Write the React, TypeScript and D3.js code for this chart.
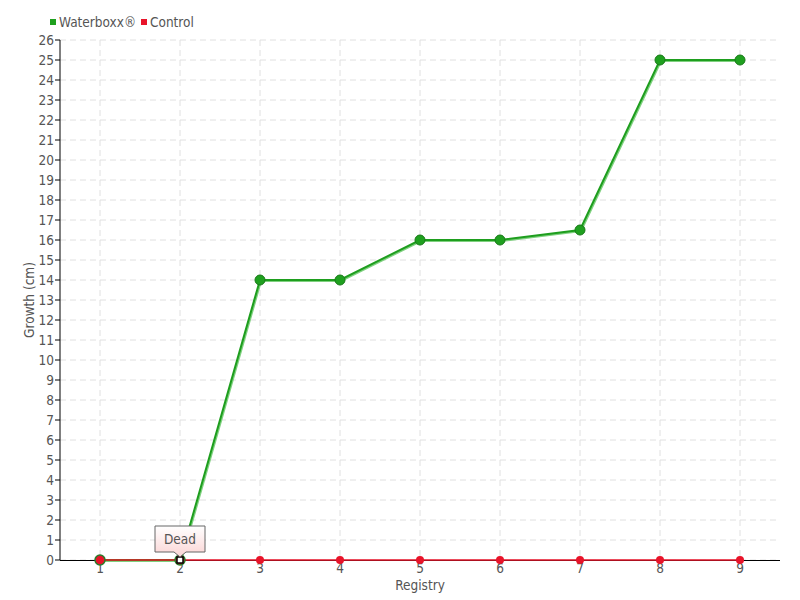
import React from "react";
import * as d3 from "d3";

const categories = ["1", "2", "3", "4", "5", "6", "7", "8", "9"];
const waterboxx = [0, 0, 14, 14, 16, 16, 16.5, 25, 25];
const control = [0, 0, 0, 0, 0, 0, 0, 0, 0];
const yTicks = d3.range(0, 27);

const W = 800, H = 600;
const m = { left: 60, right: 20, top: 40, bottom: 40 };
const FONT = "'DejaVu Sans Condensed', sans-serif";
const FS = 13.5;

export default function App() {
  const x = d3.scaleBand().domain(categories).range([m.left, W - m.right]);
  const cx = (c: string) => (x(c) as number) + x.bandwidth() / 2;
  const y = d3.scaleLinear().domain([0, 26]).range([H - m.bottom, m.top]);
  const line = d3.line<number>().x((_, i) => cx(categories[i])).y((d) => y(d));
  const gPath = line(waterboxx) as string;
  const rPath = line(control) as string;
  const tipX = cx(categories[1]);
  const tipY = y(control[1]);
  return (
    <svg width={W} height={H} style={{ position: "absolute", left: 0, top: 0, background: "#fff" }} fontFamily={FONT}>
      <defs>
        <linearGradient id="tipg" x1="0" y1="0" x2="0" y2="1">
          <stop offset="0" stopColor="#ffffff" />
          <stop offset="1" stopColor="#fbd4d4" />
        </linearGradient>
      </defs>
      {yTicks.map((t) => (
        <line key={"h" + t} x1={m.left} x2={W - m.right} y1={y(t)} y2={y(t)} stroke="#e0e0e0" strokeDasharray="6,4" />
      ))}
      {categories.map((c) => (
        <line key={"v" + c} x1={cx(c)} x2={cx(c)} y1={m.top} y2={H - m.bottom} stroke="#e0e0e0" strokeDasharray="6,4" />
      ))}
      <line x1={m.left} x2={m.left} y1={m.top} y2={H - m.bottom} stroke="#000" />
      <line x1={m.left} x2={W - m.right} y1={H - m.bottom + 0.5} y2={H - m.bottom + 0.5} stroke="#000" />
      {yTicks.map((t) => (
        <g key={"yt" + t}>
          <line x1={m.left - 5} x2={m.left} y1={y(t)} y2={y(t)} stroke="#000" />
          <text x={m.left - 6} y={y(t)} dy="0.35em" textAnchor="end" fontSize={FS} fill="#555">{t}</text>
        </g>
      ))}
      {categories.map((c) => (
        <text key={"xt" + c} x={cx(c)} y={H - m.bottom + 13} textAnchor="middle" fontSize={FS} fill="#555">{c}</text>
      ))}
      <text x={(m.left + W - m.right) / 2} y={590} textAnchor="middle" fontSize={FS} fill="#555">Registry</text>
      <text transform={`translate(34,${(m.top + H - m.bottom) / 2}) rotate(-90)`} textAnchor="middle" fontSize={FS} fill="#555">Growth (cm)</text>
      <path d={gPath} fill="none" stroke="#7fd17f" strokeWidth={2} transform="translate(1,1)" />
      <path d={gPath} fill="none" stroke="#1e9e1e" strokeWidth={2} />
      <path d={rPath} fill="none" stroke="#e8142a" strokeWidth={1.5} />
      {waterboxx.map((v, i) => i >= 2 ? (
        <circle key={"g" + i} cx={cx(categories[i])} cy={y(v)} r={5} fill="#1fa01f" stroke="#187a18" strokeWidth={1} />
      ) : null)}
      {control.map((v, i) => i >= 2 ? (
        <circle key={"r" + i} cx={cx(categories[i])} cy={y(v)} r={4} fill="#e8142a" />
      ) : null)}
      <circle cx={cx(categories[0])} cy={y(control[0])} r={5} fill="#e8142a" stroke="#2a7a2a" strokeWidth={1.5} />
      <circle cx={tipX} cy={tipY} r={5} fill="#e8142a" stroke="#2a7a2a" strokeWidth={1.5} />
      <rect x={tipX - 3} y={tipY - 3} width={6} height={6} fill="#fff" stroke="#000" strokeWidth={1.5} />
      <path d={`M${tipX - 25},${tipY - 34} H${tipX + 25} V${tipY - 8} H${tipX + 6} L${tipX},${tipY - 3} L${tipX - 6},${tipY - 8} H${tipX - 25} Z`} fill="url(#tipg)" stroke="#666" />
      <text x={tipX} y={tipY - 21} dy="0.35em" textAnchor="middle" fontSize={FS} fill="#555">Dead</text>
      <rect x={50} y={19} width={6} height={6} fill="#1fa01f" />
      <text x={59} y={22} dy="0.35em" fontSize={FS} fill="#555">Waterboxx®</text>
      <rect x={141} y={19} width={6} height={6} fill="#e8142a" />
      <text x={150} y={22} dy="0.35em" fontSize={FS} fill="#555">Control</text>
    </svg>
  );
}
